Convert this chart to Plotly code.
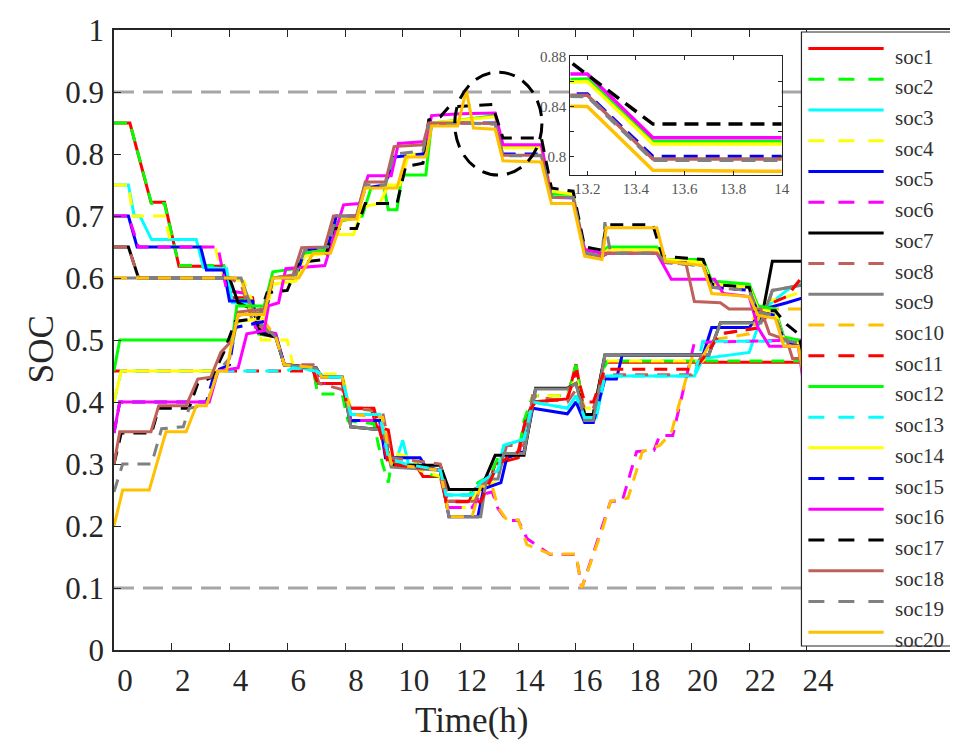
import plotly.graph_objects as go

# ---------------- data ----------------
names = [f"soc{i}" for i in range(1, 21)]
colors = ["#FF0000", "#00FF00", "#00FFFF", "#FFFF00", "#0000FF", "#FF00FF", "#000000", "#C0605A", "#808080", "#FFC000",
          "#FF0000", "#00FF00", "#00FFFF", "#FFFF00", "#0000FF", "#FF00FF", "#000000", "#C0605A", "#808080", "#FFC000"]
dashed = [False, True, False, True, False, True, False, True, False, True,
          True, False, True, False, True, False, True, False, True, False]

soc_limits = [0.1, 0.9]
x_ticks = list(range(0, 25, 2))
y_ticks = [round(0.1 * i, 1) for i in range(11)]
inset_x_ticks = [13.2, 13.4, 13.6, 13.8, 14.0]
inset_y_ticks = [0.8, 0.82, 0.84, 0.86, 0.88]
inset_y_text = ["0.8", "", "0.84", "", "0.88"]

# (time in h, SOC) breakpoints of each curve
soc1 = [(0, 0.85), (0.55, 0.85), (1.28, 0.722), (1.75, 0.722), (2.25, 0.619), (3.8, 0.619), (4.05, 0.568), (4.8, 0.568),
        (5.0, 0.51), (5.6, 0.505), (5.9, 0.46), (6.9, 0.455), (7.0, 0.43), (7.9, 0.43), (8.1, 0.39), (8.9, 0.39),
        (9.1, 0.36), (9.5, 0.355), (9.7, 0.30), (10.5, 0.295), (10.7, 0.28), (11.3, 0.28), (11.5, 0.24), (12.3, 0.24),
        (12.5, 0.26), (13.0, 0.27), (13.2, 0.30), (14.0, 0.31), (14.2, 0.36), (14.5, 0.40), (15.7, 0.405), (16.0, 0.461),
        (16.3, 0.38), (16.6, 0.38), (16.9, 0.45), (17.0, 0.464), (20.4, 0.464), (24.0, 0.464)]
soc2 = [(0, 0.85), (0.55, 0.85), (1.3, 0.72), (1.75, 0.72), (2.25, 0.62), (3.8, 0.62), (4.05, 0.565), (4.8, 0.565),
        (5.0, 0.51), (5.6, 0.505), (5.9, 0.46), (6.9, 0.455), (7.05, 0.413), (7.9, 0.413), (8.1, 0.37), (9.0, 0.365),
        (9.3, 0.30), (9.5, 0.27), (9.6, 0.30), (10.5, 0.30), (10.7, 0.285), (11.3, 0.28), (11.5, 0.25), (12.3, 0.25),
        (12.6, 0.27), (13.0, 0.28), (13.3, 0.31), (14.0, 0.315), (14.2, 0.37), (14.5, 0.41), (15.7, 0.41), (16.0, 0.46),
        (16.3, 0.38), (16.6, 0.38), (16.9, 0.45), (17.1, 0.466), (24.0, 0.466)]
soc3 = [(0, 0.75), (0.5, 0.75), (0.7, 0.70), (0.9, 0.70), (1.3, 0.662), (2.85, 0.662), (3.1, 0.617), (3.9, 0.615),
        (4.1, 0.56), (4.8, 0.56), (5.0, 0.52), (5.6, 0.505), (5.9, 0.46), (7.0, 0.45), (7.3, 0.44), (7.9, 0.44),
        (8.2, 0.38), (9.2, 0.38), (9.5, 0.31), (9.8, 0.31), (10.0, 0.338), (10.2, 0.30), (11.3, 0.29), (11.5, 0.25),
        (12.4, 0.25), (12.7, 0.27), (13.3, 0.29), (13.5, 0.33), (14.2, 0.34), (14.5, 0.40), (15.7, 0.39), (16.0, 0.41),
        (16.3, 0.375), (16.7, 0.375), (17.0, 0.442), (20.1, 0.442), (20.4, 0.47), (22.0, 0.48), (22.5, 0.55),
        (23.3, 0.58), (24.0, 0.60)]
soc4 = [(0, 0.75), (0.5, 0.75), (0.65, 0.70), (1.75, 0.70), (2.0, 0.65), (3.5, 0.65), (3.8, 0.60), (4.5, 0.595),
        (4.9, 0.55), (5.1, 0.50), (6.0, 0.50), (6.2, 0.46), (7.0, 0.455), (7.2, 0.445), (7.9, 0.445), (8.2, 0.39),
        (9.2, 0.385), (9.5, 0.32), (10.3, 0.31), (10.6, 0.29), (11.3, 0.28), (11.6, 0.23), (12.3, 0.23), (12.6, 0.26),
        (13.2, 0.27), (13.4, 0.31), (14.2, 0.32), (14.5, 0.41), (15.7, 0.41), (16.0, 0.44), (16.3, 0.39), (16.6, 0.39),
        (17.0, 0.466), (20.4, 0.466), (20.7, 0.52), (22.0, 0.52), (22.4, 0.56), (23.3, 0.57), (24.0, 0.58)]
soc5 = [(0, 0.70), (0.5, 0.70), (0.8, 0.65), (3.0, 0.65), (3.2, 0.613), (3.8, 0.613), (4.0, 0.563), (4.8, 0.563),
        (5.0, 0.512), (5.6, 0.51), (5.9, 0.46), (7.0, 0.455), (7.2, 0.44), (7.9, 0.44), (8.2, 0.37), (9.2, 0.37),
        (9.4, 0.31), (10.6, 0.31), (10.8, 0.295), (11.3, 0.29), (11.6, 0.215), (12.6, 0.215), (12.8, 0.26), (13.4, 0.27),
        (13.6, 0.31), (14.2, 0.32), (14.5, 0.39), (15.7, 0.381), (16.0, 0.40), (16.3, 0.367), (16.6, 0.367),
        (17.0, 0.437), (17.4, 0.437), (17.6, 0.476), (20.4, 0.476), (20.7, 0.52), (22.0, 0.52), (22.5, 0.55),
        (23.3, 0.56), (24.0, 0.57)]
soc6 = [(0, 0.70), (0.5, 0.70), (0.85, 0.65), (3.6, 0.65), (3.9, 0.58), (4.6, 0.575), (4.9, 0.52), (5.6, 0.51),
        (5.9, 0.46), (7.0, 0.455), (7.2, 0.43), (7.9, 0.43), (8.2, 0.37), (9.2, 0.37), (9.5, 0.30), (11.3, 0.29),
        (11.6, 0.23), (12.4, 0.23), (12.7, 0.25), (13.1, 0.255), (13.3, 0.228), (13.6, 0.209), (14.0, 0.209),
        (14.3, 0.18), (15.1, 0.154), (16.0, 0.154), (16.2, 0.10), (16.95, 0.207), (17.2, 0.24), (17.6, 0.24),
        (18.1, 0.32), (18.7, 0.322), (18.9, 0.346), (19.35, 0.346), (20.1, 0.496), (22.0, 0.498), (24.0, 0.50)]
soc7 = [(0, 0.65), (0.5, 0.65), (0.85, 0.60), (4.0, 0.60), (4.3, 0.56), (4.8, 0.55), (5.1, 0.51), (5.6, 0.505),
        (5.9, 0.46), (7.0, 0.455), (7.2, 0.44), (7.9, 0.44), (8.2, 0.36), (9.3, 0.355), (9.6, 0.298), (11.3, 0.298),
        (11.6, 0.259), (12.7, 0.259), (13.2, 0.314), (14.2, 0.314), (14.6, 0.422), (15.7, 0.422), (16.0, 0.43),
        (16.3, 0.38), (16.6, 0.38), (17.0, 0.476), (20.6, 0.476), (21.0, 0.528), (22.4, 0.528), (22.8, 0.627),
        (24.0, 0.627)]
soc8 = [(0, 0.65), (0.5, 0.65), (0.85, 0.60), (4.0, 0.60), (4.4, 0.59), (4.8, 0.53), (5.6, 0.505), (5.9, 0.46),
        (6.9, 0.46), (7.1, 0.43), (7.9, 0.42), (8.2, 0.39), (9.3, 0.385), (9.6, 0.31), (11.3, 0.30), (11.6, 0.24),
        (12.5, 0.24), (12.8, 0.27), (13.3, 0.28), (13.6, 0.33), (14.2, 0.33), (14.5, 0.41), (15.7, 0.40), (16.0, 0.42),
        (16.3, 0.39), (16.6, 0.39), (17.0, 0.444), (20.0, 0.444), (20.3, 0.47), (21.0, 0.51), (22.4, 0.52),
        (22.8, 0.58), (24.0, 0.59)]
soc9 = [(0, 0.60), (4.4, 0.60), (4.7, 0.56), (5.0, 0.53), (5.6, 0.505), (5.9, 0.46), (7.0, 0.455), (7.2, 0.44),
        (7.9, 0.44), (8.2, 0.36), (9.3, 0.355), (9.6, 0.295), (11.3, 0.29), (11.6, 0.215), (12.7, 0.215), (12.9, 0.276),
        (13.3, 0.276), (13.5, 0.317), (14.2, 0.317), (14.6, 0.421), (15.7, 0.421), (16.0, 0.43), (16.3, 0.37),
        (16.6, 0.37), (17.0, 0.476), (20.6, 0.476), (21.0, 0.528), (22.4, 0.528), (22.8, 0.58), (24.0, 0.59)]
soc10 = [(0, 0.60), (4.4, 0.60), (4.7, 0.55), (5.2, 0.53), (5.6, 0.505), (5.9, 0.46), (7.0, 0.455), (7.2, 0.44),
         (7.9, 0.44), (8.2, 0.38), (9.3, 0.375), (9.6, 0.30), (11.3, 0.29), (11.6, 0.215), (12.4, 0.215), (12.7, 0.264),
         (13.1, 0.264), (13.3, 0.23), (13.6, 0.21), (14.0, 0.21), (14.3, 0.17), (15.1, 0.155), (16.0, 0.155),
         (16.2, 0.10), (16.95, 0.20), (17.2, 0.24), (17.8, 0.245), (18.3, 0.32), (18.9, 0.33), (19.3, 0.35),
         (20.0, 0.47), (20.4, 0.474), (20.7, 0.50), (22.0, 0.51), (22.5, 0.55), (24.0, 0.55)]
soc11 = [(0, 0.45), (6.9, 0.45), (7.05, 0.43), (7.9, 0.43), (8.1, 0.39), (9.0, 0.39), (9.5, 0.30), (11.3, 0.29),
         (11.5, 0.239), (12.7, 0.239), (13.0, 0.27), (13.3, 0.30), (14.0, 0.32), (14.3, 0.38), (14.6, 0.40),
         (15.7, 0.405), (16.0, 0.45), (16.3, 0.40), (16.6, 0.40), (17.0, 0.453), (20.1, 0.453), (20.4, 0.47),
         (21.0, 0.51), (22.4, 0.52), (22.8, 0.56), (23.3, 0.57), (23.8, 0.60), (24.0, 0.61)]
soc12 = [(0, 0.45), (0.2, 0.50), (4.1, 0.50), (4.25, 0.555), (5.2, 0.555), (5.5, 0.61), (6.3, 0.615), (6.6, 0.64),
         (7.4, 0.645), (7.7, 0.69), (8.6, 0.70), (8.9, 0.745), (9.35, 0.747), (9.5, 0.71), (9.8, 0.71), (9.97, 0.766),
         (10.8, 0.766), (11.0, 0.85), (12.0, 0.855), (13.2, 0.862), (13.47, 0.812), (14.8, 0.812), (15.15, 0.735),
         (15.9, 0.735), (16.3, 0.645), (16.9, 0.64), (17.1, 0.65), (18.8, 0.65), (19.1, 0.63), (20.4, 0.63),
         (20.7, 0.595), (22.0, 0.59), (22.3, 0.555), (22.9, 0.55), (23.2, 0.505), (23.7, 0.50), (23.9, 0.46),
         (24.0, 0.46)]
soc13 = [(0, 0.40), (0.25, 0.45), (6.0, 0.45), (6.2, 0.455), (7.0, 0.45), (7.3, 0.44), (7.9, 0.44), (8.2, 0.38),
         (9.2, 0.38), (9.5, 0.31), (10.1, 0.30), (11.3, 0.29), (11.5, 0.25), (12.4, 0.25), (12.7, 0.27), (13.3, 0.29),
         (13.5, 0.33), (14.2, 0.34), (14.5, 0.40), (15.7, 0.39), (16.0, 0.41), (16.3, 0.375), (16.7, 0.375),
         (17.0, 0.442), (20.1, 0.442), (20.4, 0.498), (24.0, 0.498)]
soc14 = [(0, 0.40), (0.25, 0.45), (3.9, 0.45), (4.1, 0.50), (4.3, 0.53), (5.2, 0.535), (5.5, 0.59), (6.3, 0.595),
         (6.6, 0.635), (7.4, 0.64), (7.7, 0.67), (8.3, 0.67), (8.6, 0.715), (9.2, 0.72), (9.5, 0.75), (9.9, 0.75),
         (10.2, 0.80), (10.8, 0.80), (11.0, 0.85), (12.0, 0.855), (13.2, 0.86), (13.47, 0.81), (14.8, 0.81),
         (15.15, 0.74), (15.9, 0.735), (16.3, 0.64), (16.9, 0.635), (17.1, 0.645), (18.8, 0.645), (19.1, 0.63),
         (20.4, 0.625), (20.7, 0.59), (22.0, 0.585), (22.3, 0.55), (22.9, 0.545), (23.2, 0.50), (23.7, 0.495),
         (23.9, 0.455), (24.0, 0.455)]
soc15 = [(0, 0.35), (0.2, 0.40), (3.2, 0.40), (3.5, 0.45), (4.0, 0.46), (4.2, 0.52), (5.2, 0.53), (5.5, 0.60),
         (6.3, 0.60), (6.6, 0.645), (7.4, 0.65), (7.7, 0.70), (8.4, 0.70), (8.7, 0.745), (9.4, 0.75), (9.7, 0.795),
         (10.7, 0.80), (11.0, 0.845), (12.0, 0.85), (13.2, 0.85), (13.47, 0.80), (14.8, 0.80), (15.15, 0.73),
         (15.9, 0.73), (16.3, 0.64), (16.9, 0.635), (17.1, 0.64), (18.8, 0.64), (19.1, 0.625), (20.4, 0.62),
         (20.7, 0.585), (22.0, 0.58), (22.3, 0.545), (22.9, 0.54), (23.2, 0.50), (23.7, 0.49), (23.9, 0.45),
         (24.0, 0.45)]
soc16 = [(0, 0.35), (0.2, 0.40), (3.3, 0.40), (3.6, 0.45), (4.3, 0.455), (4.6, 0.51), (5.2, 0.515), (5.35, 0.555),
         (5.7, 0.56), (5.95, 0.615), (7.3, 0.62), (7.95, 0.718), (8.5, 0.72), (8.8, 0.765), (9.6, 0.765),
         (9.85, 0.817), (10.8, 0.82), (11.0, 0.862), (12.0, 0.865), (13.2, 0.866), (13.47, 0.815), (14.8, 0.815),
         (15.15, 0.73), (15.9, 0.729), (16.3, 0.646), (16.9, 0.64), (18.8, 0.64), (19.3, 0.598), (20.8, 0.598),
         (21.1, 0.575), (22.0, 0.57), (22.3, 0.52), (22.7, 0.49), (23.7, 0.49), (23.85, 0.44), (24.0, 0.44)]
soc17 = [(0, 0.30), (0.25, 0.35), (1.3, 0.35), (1.55, 0.39), (2.6, 0.39), (2.9, 0.43), (3.4, 0.44), (3.8, 0.48),
         (4.2, 0.53), (5.0, 0.535), (5.3, 0.576), (6.0, 0.58), (6.4, 0.625), (7.3, 0.63), (7.6, 0.68), (8.4, 0.68),
         (8.7, 0.72), (9.8, 0.72), (10.1, 0.78), (10.7, 0.785), (10.9, 0.855), (11.3, 0.86), (11.6, 0.876),
         (13.1, 0.88), (13.47, 0.826), (14.8, 0.826), (15.15, 0.745), (15.9, 0.74), (16.3, 0.65), (16.9, 0.645),
         (17.05, 0.686), (18.66, 0.686), (19.0, 0.635), (20.4, 0.63), (20.7, 0.59), (22.0, 0.585), (22.2, 0.547),
         (22.9, 0.547), (23.3, 0.525), (23.7, 0.51), (23.9, 0.47), (24.0, 0.47)]
soc18 = [(0, 0.30), (0.2, 0.352), (1.28, 0.352), (1.55, 0.394), (2.5, 0.394), (2.9, 0.437), (3.35, 0.44), (3.7, 0.48),
         (4.1, 0.50), (4.3, 0.545), (5.2, 0.55), (5.5, 0.60), (6.2, 0.605), (6.5, 0.649), (7.3, 0.65), (7.6, 0.70),
         (8.4, 0.70), (8.7, 0.755), (9.4, 0.755), (9.7, 0.812), (10.7, 0.815), (10.9, 0.85), (12.0, 0.85),
         (13.2, 0.849), (13.47, 0.798), (14.8, 0.798), (15.15, 0.73), (15.9, 0.73), (16.3, 0.64), (16.9, 0.635),
         (17.1, 0.64), (18.8, 0.64), (19.1, 0.625), (19.8, 0.625), (20.1, 0.562), (21.0, 0.56), (21.3, 0.55),
         (22.4, 0.55), (22.7, 0.51), (23.3, 0.50), (23.5, 0.47), (24.0, 0.47)]
soc19 = [(0, 0.255), (0.3, 0.30), (1.3, 0.30), (1.65, 0.357), (2.4, 0.36), (2.6, 0.39), (3.2, 0.395), (3.6, 0.45),
         (4.0, 0.47), (4.3, 0.54), (5.2, 0.545), (5.5, 0.60), (6.3, 0.605), (6.6, 0.645), (7.4, 0.65), (7.7, 0.70),
         (8.4, 0.70), (8.7, 0.75), (9.4, 0.75), (9.7, 0.80), (10.7, 0.805), (10.9, 0.845), (12.0, 0.85),
         (13.2, 0.848), (13.47, 0.797), (14.8, 0.797), (15.15, 0.73), (15.9, 0.73), (16.3, 0.64), (16.9, 0.635),
         (17.0, 0.69), (17.2, 0.64), (18.8, 0.64), (19.1, 0.625), (20.4, 0.62), (20.7, 0.585), (22.0, 0.58),
         (22.3, 0.545), (22.9, 0.54), (23.2, 0.50), (23.7, 0.495), (23.9, 0.45), (24.0, 0.45)]
soc20 = [(0, 0.20), (0.3, 0.258), (1.22, 0.258), (1.8, 0.352), (2.5, 0.352), (2.85, 0.394), (3.2, 0.394), (3.6, 0.45),
         (3.9, 0.45), (4.1, 0.50), (4.3, 0.541), (5.2, 0.541), (5.5, 0.60), (6.4, 0.60), (6.9, 0.64), (7.5, 0.64),
         (7.9, 0.694), (8.4, 0.695), (8.7, 0.745), (9.8, 0.745), (10.1, 0.795), (10.8, 0.795), (11.0, 0.845),
         (11.9, 0.845), (12.2, 0.903), (12.45, 0.842), (13.2, 0.84), (13.47, 0.789), (14.8, 0.787), (15.15, 0.72),
         (15.9, 0.72), (16.3, 0.635), (16.9, 0.63), (17.05, 0.681), (18.8, 0.681), (19.1, 0.627), (20.4, 0.62),
         (20.7, 0.575), (22.0, 0.57), (22.3, 0.54), (22.9, 0.535), (23.2, 0.49), (23.7, 0.49), (23.85, 0.45),
         (24.0, 0.45)]

series = [soc1, soc2, soc3, soc4, soc5, soc6, soc7, soc8, soc9, soc10,
          soc11, soc12, soc13, soc14, soc15, soc16, soc17, soc18, soc19, soc20]

# ---------------- figure ----------------
W, H = 958, 745
ML, MR, MT, MB = 106, 5, 19, 103
PW, PH = W - ML - MR, H - MT - MB
PX_PER_H = 29.15
FONT = "Liberation Serif, Times New Roman, serif"
AX = "#262626"
TXT = "#262626"
DASH = "13px,9px"


def px_x(px):
    return (px - ML) / PW


def px_y(py):
    return (H - MB - py) / PH


fig = go.Figure()

for name, pts, c, d in zip(names, series, colors, dashed):
    t = [p[0] for p in pts]
    v = [p[1] for p in pts]
    fig.add_trace(go.Scatter(x=t, y=v, mode="lines", name=name, showlegend=False,
                             line=dict(color=c, width=3, dash=DASH if d else "solid"),
                             xaxis="x", yaxis="y"))
for name, pts, c, d in zip(names, series, colors, dashed):
    t = [p[0] for p in pts]
    v = [p[1] for p in pts]
    fig.add_trace(go.Scatter(x=t, y=v, mode="lines", name=name, showlegend=False,
                             line=dict(color=c, width=3.5, dash="14px,8px" if d else "solid"),
                             xaxis="x2", yaxis="y2"))

shapes = []
for lim in soc_limits:
    shapes.append(dict(type="line", xref="paper", yref="y", x0=0, x1=1, y0=lim, y1=lim, layer="below",
                       line=dict(color="#A6A6A6", width=3, dash="20px,9px")))
# dashed ellipse highlighting the zoomed region
shapes.append(dict(type="circle", xref="x", yref="y", x0=11.8, x1=14.82, y0=0.766, y1=0.932,
                   line=dict(color="black", width=3, dash="16px,9px")))

# legend box
shapes.append(dict(type="rect", xref="paper", yref="paper", x0=px_x(800), x1=px_x(953), y0=px_y(638), y1=px_y(21),
                   fillcolor="white", line=dict(color=AX, width=1.2), layer="above"))
annotations = []
for i, (name, c, d) in enumerate(zip(names, colors, dashed)):
    ly = 37.7 + 30.86 * i
    shapes.append(dict(type="line", xref="paper", yref="paper", x0=px_x(807), x1=px_x(883),
                       y0=px_y(ly), y1=px_y(ly), layer="above",
                       line=dict(color=c, width=3, dash="16px,14px" if d else "solid")))
    annotations.append(dict(text=name, xref="paper", yref="paper", x=px_x(892), y=px_y(ly + 8),
                            xanchor="left", yanchor="middle", showarrow=False,
                            font=dict(family=FONT, size=21, color="#333")))

# axis titles
annotations.append(dict(text="Time(h)", xref="x", yref="paper", x=12, xshift=11, y=px_y(713),
                        xanchor="center", yanchor="middle", showarrow=False,
                        font=dict(family=FONT, size=35, color=TXT)))
annotations.append(dict(text="SOC", xref="paper", yref="paper", x=px_x(33), y=px_y(340), textangle=-90,
                        xanchor="center", yanchor="middle", showarrow=False,
                        font=dict(family=FONT, size=35, color=TXT)))

fig.update_layout(
    width=W, height=H,
    margin=dict(l=ML, r=MR, t=MT, b=MB),
    paper_bgcolor="white", plot_bgcolor="white",
    font=dict(family=FONT, color=TXT),
    showlegend=False,
    shapes=shapes, annotations=annotations,
    xaxis=dict(range=[0, PW / PX_PER_H], tickvals=x_ticks, ticktext=[str(v) for v in x_ticks],
               ticks="inside", ticklen=7, tickwidth=1.2, tickcolor=AX, showline=True, linecolor=AX,
               linewidth=1.5, mirror="allticks", showgrid=False, zeroline=False,
               ticklabelshift=11, ticklabelstandoff=2, tickfont=dict(family=FONT, size=31, color=TXT)),
    yaxis=dict(range=[0, 1], tickvals=y_ticks, ticktext=[f"{v:g}" for v in y_ticks],
               ticks="inside", ticklen=7, tickwidth=1.2, tickcolor=AX, showline=True, linecolor=AX,
               linewidth=1.5, mirror="allticks", showgrid=False, zeroline=False,
               ticklabelstandoff=2, tickfont=dict(family=FONT, size=31, color=TXT)),
    xaxis2=dict(domain=[px_x(566.7), px_x(780)], anchor="y2", range=[13.13, 14.0], tickvals=inset_x_ticks,
                ticktext=["13.2", "13.4", "13.6", "13.8", "14"],
                ticks="inside", ticklen=4, tickcolor=AX, showline=True, linecolor=AX, linewidth=1.2,
                mirror="allticks", showgrid=False, zeroline=False,
                tickfont=dict(family=FONT, size=15, color="#555")),
    yaxis2=dict(domain=[px_y(165), px_y(45)], anchor="x2", range=[0.785, 0.8805], tickvals=inset_y_ticks,
                ticktext=inset_y_text,
                ticks="inside", ticklen=4, tickcolor=AX, showline=True, linecolor=AX, linewidth=1.2,
                mirror="allticks", showgrid=False, zeroline=False,
                tickfont=dict(family=FONT, size=15, color="#555")),
)

fig.write_html("out.html")
